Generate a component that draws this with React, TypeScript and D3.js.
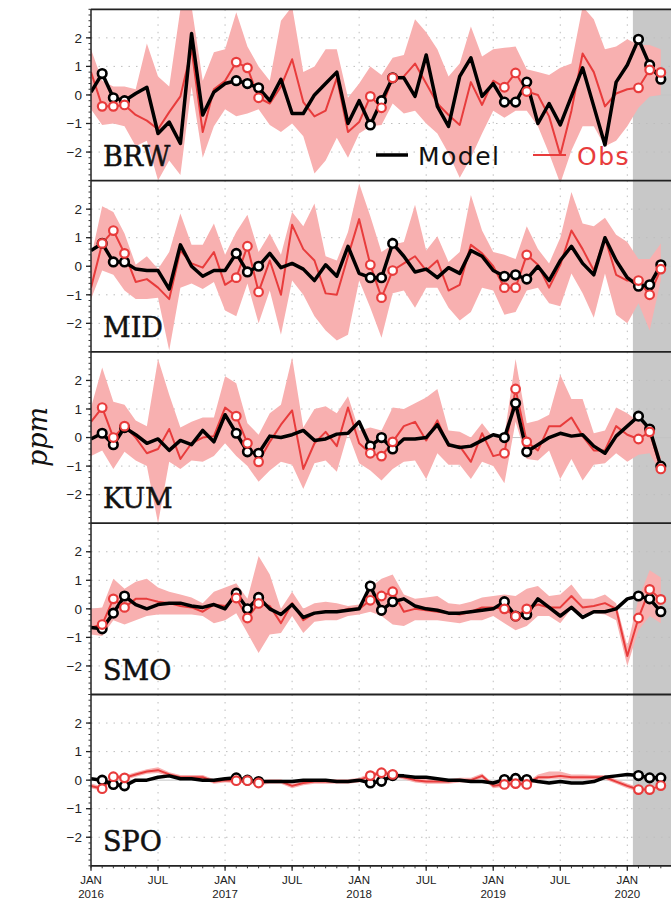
import React from "react";
import * as d3 from "d3";

// monthly anomalies (ppm), Jan 2016 .. Apr 2020
const brwModel = [0.1, 0.75, -0.1, -0.2, 0.05, 0.27, -1.35, -0.95, -1.7, 2.15, -0.7, 0.1, 0.4, 0.5, 0.4, 0.25, -0.2, 0.55, -0.65, -0.65, 0.0, 0.4, 0.8, -1.0, -0.2, -1.05, -0.2, 0.6, 0.6, -0.05, 1.4, -0.4, -1.1, 0.65, 1.3, -0.05, 0.4, -0.25, -0.25, 0.45, -1.0, -0.3, -1.05, -0.05, 0.95, -0.4, -1.75, 0.45, 1.05, 1.95, 1.05, 0.55];
const brwObs = [0.8, -0.4, -0.4, -0.35, -0.7, -0.9, -1.2, -0.6, -0.05, 1.6, -1.3, 0.2, 0.5, 1.15, 0.95, -0.1, -0.3, 0.3, 1.25, -0.25, -0.75, -0.55, 0.6, -1.3, -0.95, -0.05, -0.45, 0.6, 0.65, 1.1, 0.4, -0.3, -0.7, -1.05, 0.45, -0.35, 0.5, 0.27, 0.77, 0.12, 0.0, -0.75, -2.1, -0.55, 1.45, 0.8, -0.4, 0.05, 0.2, 0.25, 0.88, 0.79];
const brwHi = [1.6, 0.5, 0.3, 0.3, 0.2, 1.8, 0.65, 0.3, 3.0, 3.1, 0.5, 1.5, 1.6, 2.9, 1.7, 1.0, 0.5, 2.6, 3.1, 0.8, 1.0, 1.6, 1.6, -0.1, 0.4, 1.0, 0.7, 1.3, 1.4, 2.65, 2.2, 1.6, 0.65, 1.1, 2.4, 1.35, 1.6, 1.65, 1.7, 0.9, 0.8, 0.7, 0.95, 1.1, 3.1, 2.65, 1.6, 1.7, 1.95, 1.75, 1.75, 1.6];
const brwLo = [-0.5, -1.05, -1.0, -1.1, -1.8, -1.6, -3.0, -2.3, -2.8, 0.3, -2.2, -1.1, -0.5, -0.75, -0.65, -0.5, -1.05, -1.3, -1.0, -1.45, -2.75, -2.3, -1.5, -2.2, -1.35, -1.1, -1.05, -0.3, -0.65, -0.55, -1.0, -1.35, -2.05, -2.9, -2.2, -1.35, -0.55, -0.8, -0.55, -0.55, -1.1, -2.05, -3.1, -1.95, -1.1, -1.1, -1.8, -1.6, -1.1, -0.45, -0.05, 0.0];

const midModel = [0.55, 0.8, 0.15, 0.15, -0.1, -0.15, -0.15, -0.8, 0.75, 0.0, -0.35, -0.15, -0.15, 0.45, -0.2, 0.0, 0.45, -0.05, 0.1, -0.1, -0.5, 0.05, -0.35, 0.7, -0.25, -0.4, -0.4, 0.8, 0.35, -0.2, -0.1, -0.4, -0.05, -0.25, 0.55, 0.35, -0.15, -0.35, -0.3, -0.45, 0.0, -0.5, 0.2, 0.7, 0.1, -0.3, 1.0, 0.2, -0.4, -0.7, -0.65, 0.05];
const midObs = [-0.75, 0.8, 1.25, 0.45, -0.55, -0.45, -0.75, -1.15, 0.55, 0.1, -0.05, 0.5, -0.65, -0.4, 0.7, -0.9, 0.2, -1.0, 1.45, 0.6, 0.2, -0.95, -1.0, 0.35, 1.65, 0.05, -1.1, -0.15, 0.1, 0.35, -0.15, 0.2, -0.85, -0.65, 0.75, 0.45, 0.0, -0.75, -0.75, 0.4, 0.05, -0.75, 0.05, 1.25, 0.6, -0.15, 1.0, -0.3, -0.5, -0.5, -1.0, -0.1];
const midHi = [0.3, 2.1, 1.9, 1.15, 0.05, 0.35, -0.1, 0.5, 1.85, 0.75, 0.75, 1.5, 0.4, 1.2, 1.8, 0.5, 1.15, 0.4, 1.9, 1.4, 2.2, 0.35, 0.2, 1.2, 2.9, 1.75, 0.5, 0.75, 0.85, 2.15, 0.55, 1.05, 0.15, 0.5, 2.5, 1.25, 0.5, 0.4, 0.25, 1.4, 0.6, 0.1, 1.0, 2.6, 1.5, 1.4, 1.7, 1.1, 0.85, 0.25, 0.25, 0.8];
const midLo = [-1.15, -0.15, -0.3, -0.85, -1.15, -1.15, -1.1, -2.95, -0.75, -0.6, -0.8, -0.55, -1.55, -1.75, -0.6, -2.0, -0.85, -2.4, -0.5, -1.0, -1.75, -2.25, -2.6, -2.4, -0.5, -1.45, -2.5, -0.95, -0.85, -1.45, -0.75, -0.75, -1.45, -1.9, -1.6, -0.75, -0.85, -1.7, -1.6, -0.85, -0.75, -1.3, -1.4, -0.25, -0.95, -1.8, -0.25, -1.7, -2.0, -1.3, -2.25, -0.5];

const kumModel = [-0.05, 0.15, -0.25, 0.35, 0.1, -0.2, -0.05, -0.45, -0.1, -0.25, 0.25, -0.15, 0.8, 0.15, -0.5, -0.55, 0.05, 0.0, 0.1, 0.25, -0.1, -0.05, 0.12, 0.15, 0.55, -0.3, 0.0, -0.4, -0.05, -0.05, 0.0, 0.45, -0.25, -0.35, -0.3, -0.1, 0.1, 0.0, 1.2, -0.5, -0.25, 0.0, 0.15, 0.05, 0.1, -0.3, -0.55, 0.05, 0.4, 0.75, 0.3, -1.0];
const kumObs = [0.55, 1.05, 0.0, 0.4, 0.0, -0.55, -0.4, 0.3, -0.75, -0.2, 0.0, 0.05, 1.05, 0.75, -0.2, -0.85, -0.15, 0.45, 0.95, -1.1, -0.2, 0.2, -0.3, 1.05, -0.2, -0.55, -0.65, -0.15, 0.4, 0.55, -0.1, 0.6, -0.3, -0.3, -0.85, 0.15, -0.65, -0.55, 1.7, -0.15, -0.45, 0.4, 0.4, 0.7, 0.05, -0.45, -0.45, 0.4, 0.1, -0.05, 0.2, -1.1];
const kumHi = [1.05, 2.45, 1.25, 1.15, 0.6, 0.4, 2.75, 1.5, 0.35, 0.55, 0.7, 0.7, 2.15, 1.9, 0.5, 0.1, 0.85, 1.15, 2.8, 0.35, 1.0, 1.1, 0.85, 1.45, 0.25, 0.35, 0.25, 1.05, 1.0, 1.2, 1.4, 1.7, 0.25, 0.2, 0.0, 0.5, 0.0, 0.05, 2.75, 0.5, 0.6, 0.8, 2.2, 1.35, 1.35, 0.15, 0.25, 1.05, 0.85, 0.55, 0.4, -0.7];
const kumLo = [-0.65, -0.45, -1.1, -0.5, -0.8, -1.0, -3.0, -0.85, -1.1, -0.8, -0.85, -0.65, -0.2, -0.65, -1.0, -1.55, -1.15, -0.85, -0.95, -1.8, -0.9, -0.8, -1.2, 0.15, -0.9, -1.15, -1.5, -1.1, -0.85, -0.8, -1.45, -0.55, -0.95, -0.95, -1.45, -0.85, -1.0, -1.6, 0.55, -0.75, -0.8, -0.45, -1.45, -0.75, -1.5, -0.95, -0.9, -0.55, -0.85, -0.6, -0.55, -1.25];

const smoModel = [-0.65, -0.7, -0.15, 0.45, 0.15, 0.0, 0.15, 0.2, 0.2, 0.1, 0.05, 0.15, 0.0, 0.55, 0.0, 0.4, 0.0, -0.2, 0.15, -0.3, -0.15, -0.1, -0.1, -0.05, 0.0, 0.8, -0.05, 0.25, 0.35, 0.1, 0.0, -0.05, -0.15, -0.15, -0.1, -0.05, 0.0, 0.25, -0.25, -0.2, 0.35, 0.05, -0.25, 0.05, -0.3, -0.1, -0.1, 0.0, 0.35, 0.45, 0.35, -0.1];
const smoObs = [-0.65, -0.55, 0.35, 0.05, 0.35, 0.35, 0.25, 0.2, 0.1, 0.05, -0.1, 0.15, 0.1, 0.38, -0.32, 0.19, 0.1, -0.5, 0.2, -0.4, -0.15, -0.1, -0.1, 0.0, 0.0, 0.3, 0.45, 0.6, -0.1, 0.0, -0.05, -0.1, -0.15, -0.2, -0.1, 0.05, 0.05, 0.0, -0.26, 0.0, 0.15, 0.05, 0.05, 0.45, 0.05, 0.1, 0.2, 0.0, -1.65, -0.32, 0.68, 0.33];
const smoHi = [0.0, 0.05, 1.05, 0.7, 0.95, 1.05, 0.75, 0.6, 0.5, 0.4, 0.2, 0.6, 0.75, 0.9, 0.35, 1.85, 1.2, 0.0, 0.6, 0.0, 0.2, 0.25, 0.2, 0.1, 0.15, 0.75, 1.05, 1.2, 0.5, 0.35, 0.4, 0.45, 0.2, 0.15, 0.25, 0.4, 0.45, 0.5, 0.45, 0.7, 0.8, 0.45, 0.5, 0.85, 0.35, 0.35, 0.5, 0.2, -1.3, 0.35, 1.35, 1.1];
const smoLo = [-0.9, -0.95, -0.4, -0.55, -0.4, -0.25, -0.2, -0.2, -0.2, -0.2, -0.25, -0.5, -0.4, -0.15, -0.85, -1.55, -0.9, -0.85, -0.25, -0.85, -0.45, -0.4, -0.4, -0.25, -0.2, -0.1, -0.25, -0.55, -0.6, -0.4, -0.4, -0.4, -0.45, -0.5, -0.4, -0.4, -0.25, -0.5, -0.75, -0.6, -0.25, -0.25, -0.5, 0.0, -0.2, -0.15, -0.2, -0.4, -2.0, -0.75, -0.25, -0.5];

const spoModel = [0.05, 0.0, -0.15, -0.2, 0.0, 0.0, 0.1, 0.15, 0.05, 0.05, 0.0, 0.0, 0.05, 0.08, 0.0, -0.05, -0.05, -0.05, -0.05, 0.0, 0.0, 0.0, -0.05, -0.05, 0.0, -0.1, -0.04, 0.16, 0.15, 0.1, 0.1, 0.05, 0.0, 0.0, -0.05, -0.05, -0.1, 0.02, 0.06, 0.02, -0.05, -0.1, -0.05, -0.1, -0.1, -0.05, 0.1, 0.15, 0.2, 0.16, 0.08, 0.08];
const spoObs = [-0.2, -0.3, 0.12, 0.08, 0.2, 0.3, 0.35, 0.2, 0.1, 0.1, 0.1, -0.05, 0.0, -0.02, -0.02, -0.1, -0.05, -0.05, -0.2, -0.1, -0.05, -0.05, -0.05, -0.05, 0.0, 0.16, 0.26, 0.2, 0.1, 0.0, -0.05, -0.05, -0.05, 0.0, 0.0, 0.15, -0.2, -0.15, -0.12, -0.15, 0.1, 0.1, 0.15, 0.1, 0.1, 0.1, 0.1, -0.05, -0.2, -0.33, -0.33, -0.19];
const spoHi = [-0.12, -0.22, 0.2, 0.16, 0.28, 0.38, 0.45, 0.28, 0.18, 0.18, 0.18, 0.03, 0.08, 0.06, 0.06, -0.02, 0.03, 0.03, -0.12, -0.02, 0.03, 0.03, 0.03, 0.03, 0.08, 0.24, 0.34, 0.28, 0.18, 0.08, 0.03, 0.03, 0.03, 0.08, 0.08, 0.23, -0.12, -0.07, -0.04, -0.07, 0.2, 0.3, 0.3, 0.2, 0.2, 0.18, 0.18, 0.03, -0.12, -0.25, -0.25, -0.11];
const spoLo = [-0.28, -0.38, 0.04, 0.0, 0.12, 0.22, 0.25, 0.12, 0.02, 0.02, 0.02, -0.13, -0.08, -0.1, -0.1, -0.18, -0.13, -0.13, -0.28, -0.18, -0.13, -0.13, -0.13, -0.13, -0.08, 0.08, 0.18, 0.12, 0.02, -0.08, -0.13, -0.13, -0.13, -0.08, -0.08, 0.07, -0.28, -0.23, -0.2, -0.23, 0.0, 0.05, 0.05, 0.02, 0.02, 0.02, 0.02, -0.13, -0.28, -0.41, -0.41, -0.27];

const stations = ["BRW", "MID", "KUM", "SMO", "SPO"];
const modelSeries = [brwModel, midModel, kumModel, smoModel, spoModel];
const obsSeries = [brwObs, midObs, kumObs, smoObs, spoObs];
const hiSeries = [brwHi, midHi, kumHi, smoHi, spoHi];
const loSeries = [brwLo, midLo, kumLo, smoLo, spoLo];

// months (index from Jan 2016) that carry open-circle markers
const markerMonths = [1, 2, 3, 13, 14, 15, 25, 26, 27, 37, 38, 39, 49, 50, 51];
const xTickMonths = [0, 6, 12, 18, 24, 30, 36, 42, 48];
const xTickNames = ["JAN", "JUL", "JAN", "JUL", "JAN", "JUL", "JAN", "JUL", "JAN"];
const xTickYears = ["2016", "", "2017", "", "2018", "", "2019", "", "2020"];
const yTicks = [-2, -1, 0, 1, 2];
const shadeFrom = 48.5;

const RED = "#e83c3c";
const BAND = "#f8b0b0";

export default function App() {
  const left = 91;
  const right = 672;
  const top0 = 9.3;
  const ph = 171.3;

  const x = d3.scaleLinear().domain([0, 52]).range([left, right]);
  const months = d3.range(52);

  return (
    <svg
      width={671}
      height={901}
      style={{ position: "absolute", left: 0, top: 0, background: "#fff" }}
    >
      <rect x={0} y={0} width={671} height={901} fill="#fff" />
      {stations.map((name, p) => {
        const top = top0 + p * ph;
        const bottom = top + ph;
        const y = d3.scaleLinear().domain([-3, 3]).range([bottom, top]);
        const model = modelSeries[p];
        const obs = obsSeries[p];
        const hi = hiSeries[p];
        const lo = loSeries[p];

        const area = d3
          .area<number>()
          .x((i) => x(i))
          .y0((i) => y(lo[i]))
          .y1((i) => y(hi[i]));
        const modelLine = d3
          .line<number>()
          .x((i) => x(i))
          .y((i) => y(model[i]));
        const obsLine = d3
          .line<number>()
          .x((i) => x(i))
          .y((i) => y(obs[i]));

        const clipId = `clip-${name}`;
        const minor = d3.range(-3, 3.001, 0.2);

        return (
          <g key={name}>
            <defs>
              <clipPath id={clipId}>
                <rect x={left} y={top} width={right - left} height={ph} />
              </clipPath>
            </defs>
            <rect
              x={x(shadeFrom)}
              y={top}
              width={right - x(shadeFrom)}
              height={ph}
              fill="#c8c8c8"
            />
            {/* grid */}
            {yTicks.map((t) => (
              <line
                key={"gy" + t}
                x1={left}
                x2={right}
                y1={y(t)}
                y2={y(t)}
                stroke={t === 0 ? "#c4c4c4" : "#bdbdbd"}
                strokeWidth={1}
                strokeDasharray={t === 0 ? undefined : "1.5,6"}
              />
            ))}
            {xTickMonths.slice(1).map((m) => (
              <line
                key={"gx" + m}
                x1={x(m)}
                x2={x(m)}
                y1={top}
                y2={bottom}
                stroke="#bdbdbd"
                strokeWidth={1}
                strokeDasharray="1.5,6"
              />
            ))}
            <g clipPath={`url(#${clipId})`}>
              <path d={area(months) || ""} fill={BAND} />
              <path d={obsLine(months) || ""} fill="none" stroke={RED} strokeWidth={2} strokeLinejoin="round" />
              <path d={modelLine(months) || ""} fill="none" stroke="#000" strokeWidth={3.5} strokeLinejoin="round" />
              {markerMonths.map((m) => (
                <circle key={"mm" + m} cx={x(m)} cy={y(model[m])} r={4.3} fill="#fff" stroke="#000" strokeWidth={2.6} />
              ))}
              {markerMonths.map((m) => (
                <circle key={"om" + m} cx={x(m)} cy={y(obs[m])} r={4.3} fill="#fff" stroke={RED} strokeWidth={2.2} />
              ))}
            </g>
            {/* frame */}
            <line x1={left} x2={right} y1={top} y2={top} stroke="#222" strokeWidth={1.8} />
            <line x1={left} x2={left} y1={top} y2={bottom} stroke="#222" strokeWidth={1.5} />
            {minor.map((t, k) => (
              <line key={"mt" + k} x1={left - 2.5} x2={left} y1={y(t)} y2={y(t)} stroke="#333" strokeWidth={1} />
            ))}
            {yTicks.map((t) => (
              <g key={"yt" + t}>
                <line x1={left - 5} x2={left} y1={y(t)} y2={y(t)} stroke="#222" strokeWidth={1.3} />
                <text
                  x={left - 9}
                  y={y(t)}
                  dy="0.35em"
                  textAnchor="end"
                  fontFamily="Liberation Sans, Arial, sans-serif"
                  fontSize={13.5}
                  fill="#222"
                >
                  {d3.format("")(t).replace("-", "\u2212")}
                </text>
              </g>
            ))}
            <text
              x={103}
              y={top + 156.4}
              fontFamily="DejaVu Serif, serif"
              fontSize={27}
              fill="#111"
              stroke="#111"
              strokeWidth={0.5}
            >
              {name}
            </text>
          </g>
        );
      })}

      {/* bottom axis */}
      {(() => {
        const bottom = top0 + 5 * ph;
        return (
          <g>
            <line x1={left} x2={right} y1={bottom} y2={bottom} stroke="#222" strokeWidth={1.8} />
            {d3.range(0, 53).map((m) => (
              <line key={"bm" + m} x1={x(m)} x2={x(m)} y1={bottom} y2={bottom + 2.5} stroke="#333" strokeWidth={1} />
            ))}
            {xTickMonths.map((m, k) => (
              <g key={"bx" + m}>
                <line x1={x(m)} x2={x(m)} y1={bottom} y2={bottom + 5} stroke="#222" strokeWidth={1.3} />
                <text
                  x={x(m)}
                  y={bottom + 18}
                  textAnchor="middle"
                  fontFamily="Liberation Sans, Arial, sans-serif"
                  fontSize={11.5}
                  fill="#222"
                >
                  {xTickNames[k]}
                </text>
                {xTickYears[k] && (
                  <text
                    x={x(m)}
                    y={bottom + 32}
                    textAnchor="middle"
                    fontFamily="Liberation Sans, Arial, sans-serif"
                    fontSize={11.5}
                    fill="#222"
                  >
                    {xTickYears[k]}
                  </text>
                )}
              </g>
            ))}
          </g>
        );
      })()}

      {/* legend */}
      <line x1={376} x2={408} y1={155} y2={155} stroke="#000" strokeWidth={3.5} />
      <text x={418} y={165} fontFamily="DejaVu Sans, sans-serif" fontSize={25} letterSpacing={1.5} fill="#111">
        Model
      </text>
      <line x1={533} x2={566} y1={155} y2={155} stroke={RED} strokeWidth={2} />
      <text x={577} y={165} fontFamily="DejaVu Sans, sans-serif" fontSize={25} letterSpacing={1.5} fill={RED}>
        Obs
      </text>

      {/* y label */}
      <text
        transform="translate(47,437) rotate(-90)"
        textAnchor="middle"
        fontFamily="DejaVu Serif, serif"
        fontStyle="italic"
        fontSize={27}
        fill="#111"
      >
        ppm
      </text>
    </svg>
  );
}
